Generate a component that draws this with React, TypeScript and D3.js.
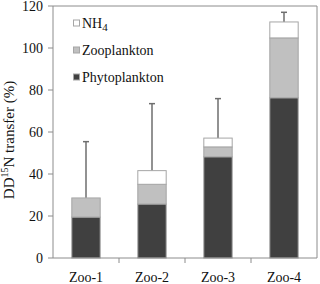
import React from "react";
import * as d3 from "d3";

const categories = ["Zoo-1", "Zoo-2", "Zoo-3", "Zoo-4"];
const phytoplankton = [19.5, 25.7, 48.2, 76.3];
const zooplankton = [9.1, 9.4, 4.7, 28.5];
const nh4 = [0, 6.5, 4.2, 7.6];
const errorTop = [55.4, 73.5, 75.9, 117];
const yTicks = [0, 20, 40, 60, 80, 100, 120];
const seriesNames = ["NH4", "Zooplankton", "Phytoplankton"];
const seriesColors = ["#ffffff", "#c0c0c0", "#404040"];

export default function App() {
  const W = 320, H = 284;
  const left = 53, right = 317, top = 6, bottom = 258;
  const x = d3.scaleBand().domain(categories).range([left, right]).paddingInner(0.57).paddingOuter(0.285);
  const band = d3.scaleBand().domain(categories).range([left, right]);
  const y = d3.scaleLinear().domain([0, 120]).range([bottom, top]);
  const rows = categories.map((c, i) => ({ cat: c, phyto: phytoplankton[i], zoo: zooplankton[i], nh4: nh4[i] }));
  const stack = d3.stack<any>().keys(["phyto", "zoo", "nh4"])(rows);
  const fills: Record<string, string> = { phyto: "#404040", zoo: "#c0c0c0", nh4: "#ffffff" };
  const font = "Liberation Serif, DejaVu Serif, serif";
  const axisColor = "#8c8c8c";
  return (
    <svg width={W} height={H} style={{ position: "absolute", left: 0, top: 0, fontFamily: font }}>
      <rect x={0} y={0} width={W} height={H} fill="#fff" />
      {categories.map((c, i) => {
        const cx = x(c)! + x.bandwidth() / 2;
        const t = phytoplankton[i] + zooplankton[i] + nh4[i];
        return (
          <g key={c} stroke="#6e6e6e" strokeWidth={1.5}>
            <line x1={cx} x2={cx} y1={y(t)} y2={y(errorTop[i])} />
            <line x1={cx - 3} x2={cx + 3} y1={y(errorTop[i])} y2={y(errorTop[i])} />
          </g>
        );
      })}
      {stack.map((s) =>
        s.map((d, i) =>
          d[1] - d[0] > 0 ? (
            <rect
              key={s.key + i}
              x={x(categories[i])!}
              width={x.bandwidth()}
              y={y(d[1])}
              height={y(d[0]) - y(d[1])}
              fill={fills[s.key]}
              stroke="#a6a6a6"
              strokeWidth={1}
            />
          ) : null
        )
      )}
      <line x1={left} x2={right} y1={top} y2={top} stroke={axisColor} />
      <line x1={right} x2={right} y1={top} y2={bottom} stroke={axisColor} />
      <line x1={left} x2={left} y1={top} y2={bottom} stroke={axisColor} />
      <line x1={left} x2={right} y1={bottom} y2={bottom} stroke={axisColor} />
      {yTicks.map((t) => (
        <g key={t}>
          <line x1={left - 5} x2={left} y1={y(t)} y2={y(t)} stroke={axisColor} />
          <text x={left - 10} y={y(t) + 5} textAnchor="end" fontSize={14} fill="#111" style={{ fontFamily: font }}>{t}</text>
        </g>
      ))}
      {categories.map((c, i) => (
        <g key={c}>
          {i > 0 && <line x1={band(c)!} x2={band(c)!} y1={bottom} y2={bottom + 5} stroke={axisColor} />}
          <text x={band(c)! + band.bandwidth() / 2} y={282} textAnchor="middle" fontSize={14} fill="#111" style={{ fontFamily: font }}>{c}</text>
        </g>
      ))}
      <text transform="translate(14,140) rotate(-90)" textAnchor="middle" fontSize={15} fill="#111" style={{ fontFamily: font }}>
        DD<tspan fontSize={10} dy={-6}>15</tspan><tspan dy={6}>N transfer (%)</tspan>
      </text>
      {seriesNames.map((n, i) => {
        const cy = 23 + i * 27;
        return (
          <g key={n}>
            <rect x={73.5} y={cy - 3} width={6} height={6} fill={seriesColors[i]} stroke="#a6a6a6" />
            <text x={82} y={cy + 5} fontSize={14} fill="#111" style={{ fontFamily: font }}>
              {n === "NH4" ? (<>NH<tspan fontSize={11} dy={3}>4</tspan></>) : n}
            </text>
          </g>
        );
      })}
    </svg>
  );
}
